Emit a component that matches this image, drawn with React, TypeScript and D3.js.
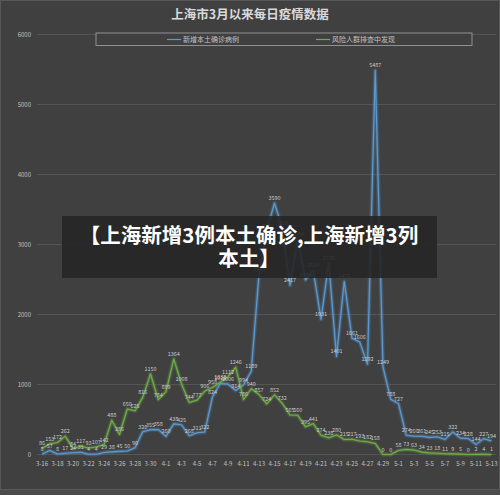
import React from "react";
import * as d3 from "d3";

const dates = [
  "3-16","3-17","3-18","3-19","3-20","3-21","3-22","3-23","3-24","3-25","3-26","3-27","3-28","3-29","3-30","3-31",
  "4-1","4-2","4-3","4-4","4-5","4-6","4-7","4-8","4-9","4-10","4-11","4-12","4-13","4-14","4-15","4-16","4-17","4-18","4-19","4-20",
  "4-21","4-22","4-23","4-24","4-25","4-26","4-27","4-28","4-29","4-30",
  "5-1","5-2","5-3","5-4","5-5","5-6","5-7","5-8","5-9","5-10","5-11","5-12","5-13",
];

const confirmed = [
  8,57,8,17,24,31,4,4,29,38,45,50,96,326,355,358,
  260,438,425,268,311,322,824,1015,1006,914,994,1189,2573,3200,3590,3238,2417,3084,2494,2634,
  1931,2736,1401,2472,1661,1606,1292,5487,1249,788,
  727,274,260,261,245,253,215,322,234,228,144,227,194,
];

const screening = [
  86,153,172,262,84,117,93,107,142,488,286,650,625,816,1150,784,
  899,1364,1008,744,777,906,958,1032,1112,1246,786,940,857,724,852,732,565,560,395,441,
  274,238,280,215,217,193,182,158,0,0,
  58,73,63,34,23,18,11,9,5,0,2,4,1,
];

const yTicks = [0, 1000, 2000, 3000, 4000, 5000, 6000];

const series = [
  { name: "新增本土确诊病例", values: confirmed, color: "#5b9bd5" },
  { name: "风险人群排查中发现", values: screening, color: "#70ad47" },
];

const FONT = "'Noto Sans CJK SC', 'Noto Sans', sans-serif";

export default function App() {
  const W = 500, H = 495;
  const x = d3.scalePoint<string>().domain(dates).range([42, 491.5]);
  const y = d3.scaleLinear().domain([0, 6000]).range([454.5, 34.5]);
  const line = d3
    .line<number>()
    .x((_, i) => x(dates[i]) as number)
    .y((d) => y(d));

  return (
    <svg
      width={W}
      height={H}
      style={{ position: "absolute", left: 0, top: 0, display: "block" }}
      fontFamily={FONT}
    >
      <rect x={0} y={0} width={W} height={H} fill="#4b4b4b" />
      <rect x={0.5} y={0.5} width={W - 1} height={489} fill="#404040" stroke="#585858" />

      <text x={250} y={19} textAnchor="middle" fontSize={12.5} fontWeight="bold" fill="#d9d9d9">
        上海市3月以来每日疫情数据
      </text>

      {yTicks.map((t) => (
        <g key={t}>
          <line x1={37} x2={496} y1={y(t)} y2={y(t)} stroke="#555555" strokeWidth={1} />
          <text x={31} y={y(t) + 2} textAnchor="end" fontSize={6} fill="#c0c0c0">
            {t}
          </text>
        </g>
      ))}

      {dates.map((d, i) =>
        i % 2 === 0 ? (
          <text key={d} x={x(d)} y={466} textAnchor="middle" fontSize={6} fill="#c0c0c0">
            {d}
          </text>
        ) : null
      )}

      <rect x={96} y={33} width={376} height={12.5} fill="#404040" stroke="#a6a6a6" strokeWidth={0.8} />
      <line x1={167} x2={181} y1={39.5} y2={39.5} stroke="#5b9bd5" strokeWidth={1.2} />
      <text x={183} y={42} fontSize={7} fill="#c0c0c0">新增本土确诊病例</text>
      <line x1={316} x2={330} y1={39.5} y2={39.5} stroke="#70ad47" strokeWidth={1.2} />
      <text x={332} y={42} fontSize={7} fill="#c0c0c0">风险人群排查中发现</text>

      {series.map((s) => (
        <g key={s.name}>
          <path d={line(s.values) ?? ""} fill="none" stroke={s.color} strokeOpacity={0.18} strokeWidth={4.5} strokeLinejoin="round" />
          <path d={line(s.values) ?? ""} fill="none" stroke={s.color} strokeOpacity={0.3} strokeWidth={2.6} strokeLinejoin="round" />
          <path d={line(s.values) ?? ""} fill="none" stroke={s.color} strokeWidth={1.1} strokeLinejoin="round" />
        </g>
      ))}

      {series.map((s) => (
        <g key={s.name + "-labels"}>
          {s.values.map((v, i) => (
            <text
              key={i}
              x={x(dates[i])}
              y={y(v) - 3}
              textAnchor="middle"
              fontSize={5.5}
              fill="#c8c8c8"
            >
              {v}
            </text>
          ))}
        </g>
      ))}

      <rect x={62} y={216} width={375} height={62} fill="#262626" fillOpacity={0.9} />
      <text x={249} y={243} textAnchor="middle" fontSize={20.5} fontWeight="bold" fill="#ffffff">
        【上海新增3例本土确诊,上海新增3列
      </text>
      <text x={249} y={266} textAnchor="middle" fontSize={20.5} fontWeight="bold" fill="#ffffff">
        本土】
      </text>
    </svg>
  );
}
